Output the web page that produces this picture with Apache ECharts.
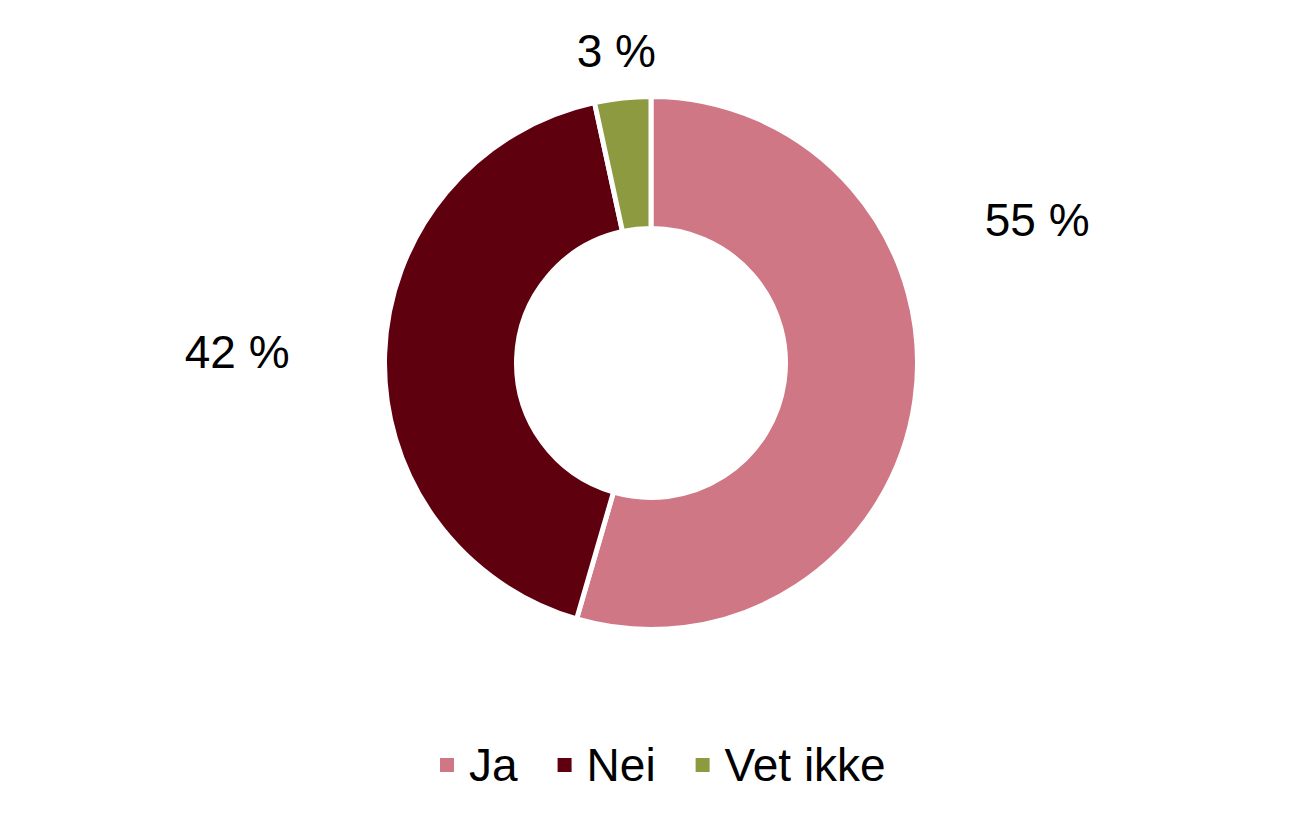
<!DOCTYPE html>
<html>
<head>
<meta charset="utf-8">
<script src="https://cdn.jsdelivr.net/npm/echarts@6/dist/echarts.min.js"></script>
<style>
  html, body { margin: 0; padding: 0; background: #fff; }
  #chart { width: 1303px; height: 831px; }
</style>
</head>
<body>
<div id="chart"></div>
<script>
// answers (percent)
const categories = ['Ja', 'Nei', 'Vet ikke'];
const shares = [54.5, 42.1, 3.4];
const colors = ['#CF7784', '#5F000F', '#8E9A40'];

// hand-placed label spots (Excel style), as fractions of the canvas
const labelSpots = [[0.796, 0.265], [0.182, 0.424], [0.473, 0.061]];

const chart = echarts.init(document.getElementById('chart'), null, { renderer: 'svg' });

chart.setOption({
    animation: false,
    legend: {
        bottom: 38,
        left: 433,
        itemWidth: 16,
        itemHeight: 16,
        itemGap: 38,
        icon: 'rect',
        textStyle: {
            fontFamily: 'Liberation Sans',
            fontSize: 46,
            color: '#000',
            padding: [0, 0, 0, 9]
        },
        data: categories
    },
    series: [{
        type: 'pie',
        center: [651, 363],
        radius: [134.5, 266.5],
        startAngle: 90,
        clockwise: true,
        avoidLabelOverlap: false,
        itemStyle: { borderColor: '#fff', borderWidth: 5 },
        label: {
            show: true,
            position: 'outside',
            formatter: p => Math.round(p.value) + ' %',
            fontFamily: 'Liberation Sans',
            fontSize: 46,
            color: '#000'
        },
        labelLine: { show: false },
        labelLayout: params => {
            const [fx, fy] = labelSpots[params.dataIndex];
            return {
                x: fx * chart.getWidth(),
                y: fy * chart.getHeight(),
                align: 'center',
                verticalAlign: 'middle'
            };
        },
        emphasis: { disabled: true },
        data: categories.map((name, i) => ({
            name,
            value: shares[i],
            itemStyle: { color: colors[i] }
        }))
    }]
});
</script>
</body>
</html>
